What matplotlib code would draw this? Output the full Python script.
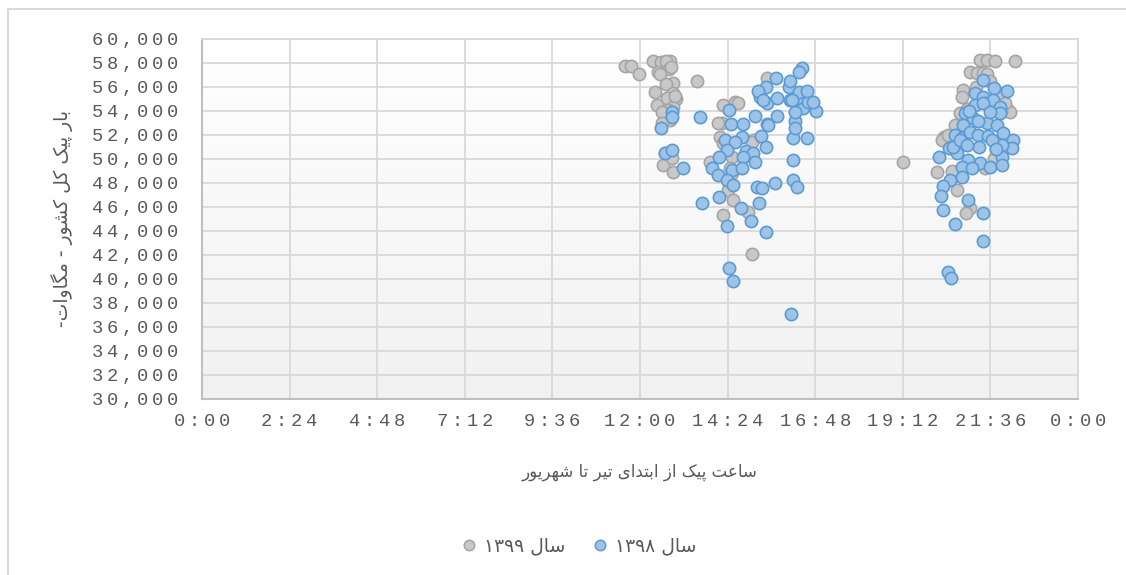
import re
import numpy as np
import matplotlib
matplotlib.use('Agg')
import matplotlib.pyplot as plt
from matplotlib.lines import Line2D
from matplotlib.colors import LinearSegmentedColormap
from matplotlib.ticker import FixedLocator, FuncFormatter

# Peak load of the whole country (MW) vs time of the daily peak, Tir..Shahrivar
# series 1399 (gray)
gray_hours = [11.59, 11.75, 11.97, 12.36, 12.58, 12.82, 12.70, 12.49, 12.79, 12.85,
              12.55, 12.90, 12.71, 12.41, 12.90, 12.75, 12.99, 12.47, 12.90, 12.77,
              12.60, 12.82, 12.60, 12.68, 12.63, 12.88, 12.90, 13.56, 12.95,
              14.27, 14.60, 14.68, 14.25, 14.14, 14.19, 14.27, 14.52, 13.92, 14.47,
              14.52, 14.41, 14.55, 14.27, 14.96, 15.10, 15.07, 15.48, 15.07,
              19.21, 21.32, 21.51, 21.73, 22.27, 21.04, 21.23, 21.40, 21.51, 20.85,
              20.82, 20.77, 20.63, 20.33, 20.27, 20.14, 20.68, 21.04, 20.93, 22.08,
              22.14, 22.00, 21.45, 21.20, 21.60, 21.80, 21.90, 20.95, 20.45, 20.55,
              21.70]
gray_mw = [57750, 57750, 57080, 58170, 58080, 58170, 58200, 57250, 57500, 57670,
           57080, 56330, 56250, 55580, 55500, 55080, 55000, 54500, 54330, 54080,
           53920, 53250, 53000, 50500, 49500, 50080, 48920, 56500, 55250,
           54500, 54750, 54670, 53000, 53000, 51830, 51330, 50170, 49750, 49250,
           48830, 47420, 46580, 45330, 45580, 51580, 51420, 56750, 42080,
           49750, 58250, 58250, 58170, 58170, 57250, 57170, 57170, 57080, 55750,
           55170, 53830, 52830, 51830, 51580, 48920, 47420, 45920, 45500, 54080,
           53920, 54670, 49250, 56000, 56500, 55500, 54000, 54200, 52000, 49000,
           50000]

# series 1398 (blue)
blue_hours = [12.88, 12.88, 12.58, 12.68, 12.88, 13.18, 13.64,
              13.70, 14.44, 14.49, 14.82, 14.79, 14.33, 14.60, 14.38, 14.90, 15.10,
              15.32, 15.45, 15.15, 15.48, 15.75, 14.16, 13.97, 14.14, 14.82, 14.52,
              14.79, 15.15, 14.38, 14.55, 15.21, 15.34, 15.70, 14.16, 15.26, 14.77,
              15.04, 14.38, 15.45, 14.44, 14.55, 16.14, 16.19, 16.19, 16.30, 16.19,
              16.58, 16.25, 16.25, 16.47, 16.82, 16.11, 16.30, 16.60, 15.29, 15.48,
              16.44, 15.73, 15.45, 15.23, 16.08, 16.36, 16.58, 15.75, 15.37, 16.16,
              16.74, 16.25, 15.51, 16.36, 16.11,
              21.40, 21.70, 22.05, 21.18, 21.40, 21.48, 21.67, 21.18, 21.86, 21.86,
              20.90, 21.12, 21.51, 21.78, 20.85, 20.63, 20.82, 21.04, 21.26, 21.53,
              21.95, 22.22, 22.19, 21.92, 21.64, 20.47, 20.19, 20.68, 20.99, 21.32,
              21.59, 21.92, 21.92, 20.82, 21.10, 20.82, 20.49, 20.30, 20.25, 20.30,
              20.99, 21.40, 20.63, 21.40, 20.44, 20.52, 20.58, 20.77, 21.40, 21.00,
              21.25, 21.60, 21.30, 21.75, 20.95]
blue_mw = [53920, 53500, 52580, 50500, 50750, 49250, 53500,
           46330, 54080, 52920, 52920, 51830, 51580, 51420, 50750, 50670, 50500,
           51920, 51000, 53580, 52920, 53580, 50170, 49250, 48670, 50170, 49080,
           49250, 49750, 48250, 47830, 47670, 47580, 48000, 46830, 46330, 45920,
           44830, 44420, 43920, 40920, 39830, 37080, 49920, 48250, 47670, 51750,
           51750, 53170, 52580, 54250, 54000, 54920, 55080, 54750, 55170, 54670,
           57580, 56750, 56000, 55670, 56000, 55580, 55670, 55080, 54920, 54920,
           54750, 53920, 52830, 57250, 56500,
           56580, 55920, 55670, 55500, 55170, 54670, 54920, 54500, 54330, 53830,
           53830, 53420, 53000, 52830, 52830, 52000, 51750, 52250, 52000, 51920,
           52170, 51580, 50920, 51170, 51580, 50920, 50170, 50500, 49920, 49670,
           49330, 50170, 49500, 49330, 49250, 48500, 48250, 47750, 46920, 45750,
           46580, 45500, 44580, 43170, 40580, 40080, 51000, 51580, 54670, 54000,
           53200, 53900, 51000, 50800, 51200]

legend_labels = ['سال ۱۳۹۹', 'سال ۱۳۹۸']
x_title = 'ساعت پیک از ابتدای تیر تا شهریور'
y_title = 'بار پیک کل کشور - مگاوات-'

# --- minimal Persian shaping (matplotlib has no complex text layout) ---
FORMS = {
    'ا': ('\uFE8D', '\uFE8E', None, None),
    'ب': ('\uFE8F', '\uFE90', '\uFE91', '\uFE92'),
    'پ': ('\uFB56', '\uFB57', '\uFB58', '\uFB59'),
    'ت': ('\uFE95', '\uFE96', '\uFE97', '\uFE98'),
    'د': ('\uFEA9', '\uFEAA', None, None),
    'ر': ('\uFEAD', '\uFEAE', None, None),
    'ز': ('\uFEAF', '\uFEB0', None, None),
    'س': ('\uFEB1', '\uFEB2', '\uFEB3', '\uFEB4'),
    'ش': ('\uFEB5', '\uFEB6', '\uFEB7', '\uFEB8'),
    'ع': ('\uFEC9', '\uFECA', '\uFECB', '\uFECC'),
    'ک': ('\uFB8E', '\uFB8F', '\uFB90', '\uFB91'),
    'گ': ('\uFB92', '\uFB93', '\uFB94', '\uFB95'),
    'ل': ('\uFEDD', '\uFEDE', '\uFEDF', '\uFEE0'),
    'م': ('\uFEE1', '\uFEE2', '\uFEE3', '\uFEE4'),
    'ن': ('\uFEE5', '\uFEE6', '\uFEE7', '\uFEE8'),
    'ه': ('\uFEE9', '\uFEEA', '\uFEEB', '\uFEEC'),
    'و': ('\uFEED', '\uFEEE', None, None),
    'ی': ('\uFBFC', '\uFBFD', '\uFBFE', '\uFBFF'),
}


def shape(s):
    out = []
    for i, ch in enumerate(s):
        if ch not in FORMS:
            out.append(ch)
            continue
        iso, fin, ini, med = FORMS[ch]
        prev = s[i - 1] if i > 0 else None
        nxt = s[i + 1] if i < len(s) - 1 else None
        jp = prev in FORMS and FORMS[prev][2] is not None
        jn = ini is not None and nxt in FORMS
        if jp and jn:
            out.append(med)
        elif jp:
            out.append(fin)
        elif jn:
            out.append(ini)
        else:
            out.append(iso)
    return ''.join(out)


def rtl(s):
    vis = shape(s)[::-1]
    # digit runs stay left-to-right
    return re.sub('[0-9\u06F0-\u06F9]+', lambda m: m.group(0)[::-1], vis)


def spaced(s):
    return '\u2009'.join(s)


BLUE_EDGE, BLUE_FILL = '#5b9bd5', '#9dc3e6'
GRAY_EDGE, GRAY_FILL = '#a5a5a5', '#c8c8c8'
TXT = '#595959'
GRID = '#d9d9d9'
MONO = ['Liberation Mono', 'DejaVu Sans']

fig = plt.figure(figsize=(11.26, 5.75), dpi=100)
ax = fig.add_axes([202 / 1126, 1 - 399 / 575, 876 / 1126, 360 / 575])

# faint vertical gradient of the plot area
cmap = LinearSegmentedColormap.from_list('bg', ['#f1f1f1', '#ffffff'])
ax.imshow(np.linspace(0, 1, 256).reshape(-1, 1)[::-1], cmap=cmap, aspect='auto',
          extent=[0, 1, 0, 1], transform=ax.transAxes, zorder=0)

ax.scatter(np.array(gray_hours) / 24, gray_mw, s=78, facecolor=GRAY_FILL,
           edgecolor=GRAY_EDGE, linewidth=1.2, zorder=3)
ax.scatter(np.array(blue_hours) / 24, blue_mw, s=78, facecolor=BLUE_FILL,
           edgecolor=BLUE_EDGE, linewidth=1.2, zorder=4)

ax.set_xlim(0, 1)
ax.set_ylim(30000, 60000)
ax.xaxis.set_major_locator(FixedLocator(np.arange(0, 1.01, 0.1)))
ax.yaxis.set_major_locator(FixedLocator(np.arange(30000, 60001, 2000)))


def fmt_time(v, pos):
    m = int(round(v * 1440)) % 1440
    return spaced(f'{m // 60}:{m % 60:02d}')


ax.xaxis.set_major_formatter(FuncFormatter(fmt_time))
ax.yaxis.set_major_formatter(FuncFormatter(lambda v, p: spaced(f'{int(v):,}')))

ax.grid(True, color=GRID, linewidth=1.3, zorder=1)
ax.set_axisbelow(True)
ax.tick_params(length=0, colors=TXT, labelsize=13.5)
ax.tick_params(axis='y', pad=17)
ax.tick_params(axis='x', pad=10)
for lab in ax.get_xticklabels() + ax.get_yticklabels():
    lab.set_family(MONO)

for side in ['top', 'right']:
    ax.spines[side].set_color(GRID)
    ax.spines[side].set_linewidth(1.3)
for side in ['left', 'bottom']:
    ax.spines[side].set_color('#bfbfbf')
    ax.spines[side].set_linewidth(1.5)

fig.text(640 / 1126, 1 - 472 / 575, rtl(x_title), ha='center', va='center',
         fontsize=12, color=TXT, family='DejaVu Sans')
fig.text(62 / 1126, 1 - 218 / 575, rtl(y_title), ha='center', va='center',
         rotation=90, fontsize=13.5, color=TXT, family='DejaVu Sans')

handles = [Line2D([], [], ls='none', marker='o', ms=7.5, mfc=GRAY_FILL, mec=GRAY_EDGE, mew=1.1),
           Line2D([], [], ls='none', marker='o', ms=7.5, mfc=BLUE_FILL, mec=BLUE_EDGE, mew=1.1)]
fig.legend(handles, [rtl(t) for t in legend_labels], ncol=2, frameon=False,
           loc='center', bbox_to_anchor=(578 / 1126, 1 - 546 / 575),
           prop={'family': 'DejaVu Sans', 'size': 13.5}, labelcolor=TXT,
           handletextpad=0.3, columnspacing=1.4, handlelength=1.0)

# outer chart border (cropped at right and bottom)
fig.add_artist(Line2D([8 / 1126, 1], [1 - 9 / 575, 1 - 9 / 575], color=GRID, lw=1.5))
fig.add_artist(Line2D([8 / 1126, 8 / 1126], [0, 1 - 9 / 575], color=GRID, lw=1.5))

fig.savefig('out.png', dpi=100)
